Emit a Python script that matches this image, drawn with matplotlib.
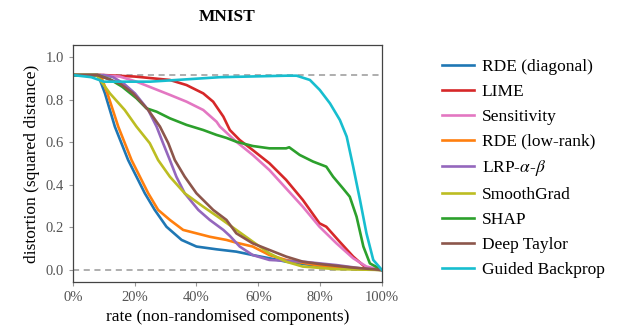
import matplotlib
matplotlib.use("Agg")
import matplotlib.pyplot as plt

plt.rcParams['font.family'] = ['Liberation Serif', 'DejaVu Serif']
plt.rcParams['mathtext.fontset'] = 'stix'

# rate of non-randomised components (x) and distortion (y) per method
rde_diag_x = [0.0, 0.082, 0.104, 0.136, 0.179, 0.233, 0.265, 0.303, 0.352, 0.40, 0.465, 0.529, 0.582, 0.636, 0.69, 0.80, 0.90, 1.0]
rde_diag_y = [0.915, 0.915, 0.829, 0.673, 0.516, 0.36, 0.282, 0.203, 0.141, 0.110, 0.097, 0.086, 0.070, 0.055, 0.039, 0.018, 0.006, 0.0]

lime_x = [0.0, 0.1, 0.2, 0.314, 0.368, 0.422, 0.454, 0.487, 0.508, 0.54, 0.582, 0.636, 0.69, 0.744, 0.798, 0.82, 0.863, 0.907, 0.95, 1.0]
lime_y = [0.915, 0.915, 0.908, 0.892, 0.868, 0.829, 0.790, 0.72, 0.657, 0.61, 0.563, 0.501, 0.423, 0.329, 0.219, 0.203, 0.133, 0.063, 0.008, 0.0]

sens_x = [0.0, 0.08, 0.152, 0.206, 0.26, 0.314, 0.368, 0.422, 0.465, 0.476, 0.529, 0.582, 0.636, 0.69, 0.744, 0.798, 0.853, 0.907, 0.95, 1.0]
sens_y = [0.915, 0.915, 0.908, 0.884, 0.853, 0.822, 0.790, 0.751, 0.696, 0.673, 0.602, 0.540, 0.469, 0.383, 0.297, 0.203, 0.125, 0.055, 0.016, 0.0]

rde_lr_x = [0.0, 0.09, 0.112, 0.147, 0.19, 0.244, 0.276, 0.314, 0.357, 0.40, 0.443, 0.497, 0.529, 0.582, 0.636, 0.69, 0.80, 0.90, 1.0]
rde_lr_y = [0.915, 0.915, 0.829, 0.673, 0.516, 0.36, 0.282, 0.235, 0.188, 0.172, 0.156, 0.141, 0.128, 0.110, 0.070, 0.047, 0.02, 0.006, 0.0]

lrp_x = [0.0, 0.1, 0.13, 0.165, 0.201, 0.244, 0.271, 0.292, 0.314, 0.335, 0.362, 0.406, 0.443, 0.487, 0.508, 0.54, 0.582, 0.636, 0.744, 0.853, 0.93, 1.0]
lrp_y = [0.915, 0.915, 0.905, 0.875, 0.829, 0.751, 0.673, 0.595, 0.516, 0.438, 0.36, 0.282, 0.235, 0.188, 0.16, 0.11, 0.07, 0.047, 0.039, 0.023, 0.008, 0.0]

smooth_x = [0.0, 0.077, 0.12, 0.168, 0.206, 0.249, 0.276, 0.314, 0.362, 0.422, 0.476, 0.529, 0.582, 0.636, 0.69, 0.744, 0.85, 1.0]
smooth_y = [0.915, 0.915, 0.829, 0.751, 0.673, 0.595, 0.516, 0.438, 0.36, 0.297, 0.243, 0.188, 0.133, 0.078, 0.039, 0.016, 0.004, 0.0]

shap_x = [0.0, 0.08, 0.12, 0.16, 0.206, 0.238, 0.271, 0.314, 0.368, 0.422, 0.465, 0.497, 0.529, 0.582, 0.636, 0.69, 0.70, 0.734, 0.777, 0.82, 0.842, 0.874, 0.896, 0.918, 0.94, 0.961, 1.0]
shap_y = [0.915, 0.915, 0.895, 0.86, 0.806, 0.759, 0.743, 0.712, 0.681, 0.657, 0.634, 0.62, 0.602, 0.582, 0.571, 0.571, 0.576, 0.540, 0.509, 0.485, 0.438, 0.383, 0.344, 0.25, 0.11, 0.031, 0.0]

taylor_x = [0.0, 0.08, 0.152, 0.195, 0.244, 0.282, 0.309, 0.33, 0.362, 0.40, 0.454, 0.497, 0.529, 0.582, 0.636, 0.69, 0.744, 0.798, 0.90, 1.0]
taylor_y = [0.915, 0.915, 0.876, 0.829, 0.751, 0.673, 0.595, 0.516, 0.438, 0.36, 0.282, 0.235, 0.172, 0.125, 0.094, 0.063, 0.039, 0.028, 0.012, 0.0]

guided_x = [0.0, 0.06, 0.1, 0.25, 0.476, 0.69, 0.724, 0.767, 0.799, 0.832, 0.864, 0.886, 0.907, 0.929, 0.95, 0.972, 1.0]
guided_y = [0.915, 0.905, 0.884, 0.884, 0.905, 0.912, 0.912, 0.892, 0.845, 0.782, 0.704, 0.626, 0.485, 0.329, 0.172, 0.047, 0.0]

labels = ['RDE (diagonal)', 'LIME', 'Sensitivity', 'RDE (low-rank)', r'LRP-$\alpha$-$\beta$',
          'SmoothGrad', 'SHAP', 'Deep Taylor', 'Guided Backprop']
series = [(rde_diag_x, rde_diag_y), (lime_x, lime_y), (sens_x, sens_y), (rde_lr_x, rde_lr_y),
          (lrp_x, lrp_y), (smooth_x, smooth_y), (shap_x, shap_y), (taylor_x, taylor_y),
          (guided_x, guided_y)]
colors = ['#1f77b4', '#d62728', '#e377c2', '#ff7f0e', '#9467bd',
          '#bcbd22', '#2ca02c', '#8c564b', '#17becf']

fig = plt.figure(figsize=(6.17, 3.36), dpi=100)
ax = fig.add_axes([0.118, 0.161, 0.501, 0.705])

ax.axhline(0.915, color='#999999', ls=(0, (4, 3)), lw=1.1, zorder=1)
ax.axhline(0.0, color='#999999', ls=(0, (4, 3)), lw=1.1, zorder=1)

for (xs, ys), lab, c in zip(series, labels, colors):
    ax.plot(xs, ys, color=c, lw=1.9, label=lab)

ax.set_xlim(0, 1)
ax.set_ylim(-0.056, 1.056)
ax.set_xticks([0, 0.2, 0.4, 0.6, 0.8, 1.0])
ax.set_xticklabels(['0%', '20%', '40%', '60%', '80%', '100%'])
ax.set_yticks([0, 0.2, 0.4, 0.6, 0.8, 1.0])
ax.set_yticklabels(['0.0', '0.2', '0.4', '0.6', '0.8', '1.0'])
ax.tick_params(colors='#999999', labelcolor='#555555', labelsize=10.5, length=3)
for s in ax.spines.values():
    s.set_color('#444444')
    s.set_linewidth(0.9)

ax.set_xlabel('rate (non-randomised components)', fontsize=12.5)
ax.set_ylabel('distortion (squared distance)', fontsize=12.5)
ax.set_title('MNIST', fontsize=12.5, fontweight='bold', pad=17)

fig.legend(loc='upper left', bbox_to_anchor=(0.705, 0.845), frameon=False,
           fontsize=12.5, handlelength=1.85, handletextpad=0.45, labelspacing=0.5,
           borderaxespad=0)

fig.savefig('out.png', dpi=100)
